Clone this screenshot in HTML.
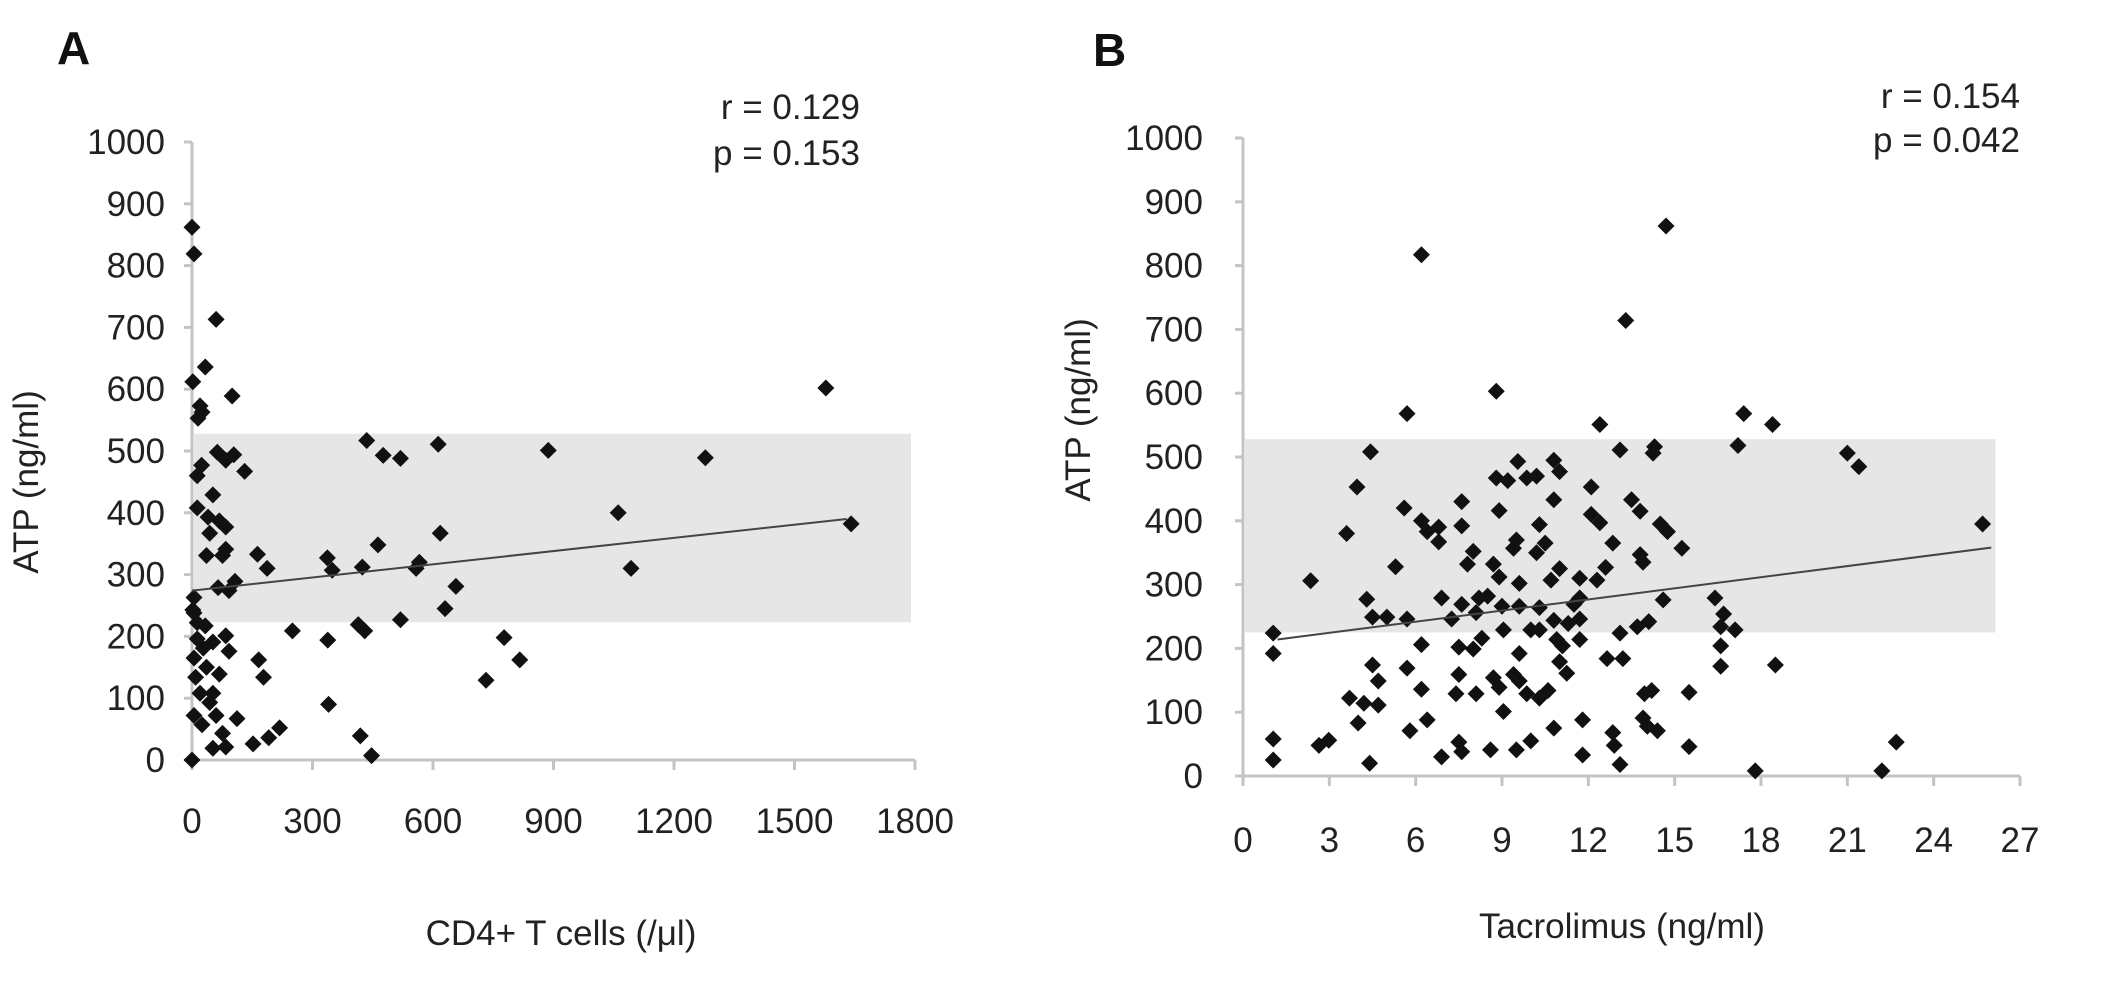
<!DOCTYPE html>
<html><head><meta charset="utf-8"><style>
html,body{margin:0;padding:0;background:#fff;}
svg{display:block;font-family:"Liberation Sans","DejaVu Sans",sans-serif;}
</style></head><body>
<svg id="fig" width="2112" height="1001" viewBox="0 0 2112 1001" xmlns="http://www.w3.org/2000/svg"></svg>
<script>
// ---- Panel A data ----
const aXTicks = [0,300,600,900,1200,1500,1800];
const aYTicks = [0,100,200,300,400,500,600,700,800,900,1000];
const aCd4 = [0,5,60,33,2,100,20,15,25,63,104,131,84,13,24,52,13,40,68,84,44,36,76,84,65,92,107,5,2,13,163,187,337,349,424,435,476,519,613,463,558,566,618,657,630,887,1278,1061,1093,1578,1641,250,338,414,430,519,777,816,732,340,419,447,218,191,152,166,178,112,84,52,76,60,44,5,20,0,68,36,52,92,84,13,5,9,28,33,25,52,5];
const aAtp = [862,819,713,636,612,589,573,553,563,498,494,467,485,460,477,429,408,393,387,377,367,331,331,341,279,274,289,263,243,222,333,310,327,307,312,517,493,488,511,348,310,320,367,281,245,501,489,400,310,602,382,209,194,219,209,227,198,162,129,90,39,7,52,36,26,162,134,67,21,19,43,72,93,72,108,0,139,150,191,176,201,196,165,134,181,217,57,108,238];
const aBand = [223,528];
const aTrend = [[0,274],[1630,390]];
// ---- Panel B data ----
const bXTicks = [0,3,6,9,12,15,18,21,24,27];
const bYTicks = [0,100,200,300,400,500,600,700,800,900,1000];
const bTac = [1.05,1.05,1.05,1.05,2.35,2.64,2.98,3.6,3.96,4.43,4.3,4.5,5,3.7,4.2,4,4.7,4.7,4.5,4.4,5.3,5.7,5.6,5.7,6.2,6.2,6.4,6.8,6.8,6.2,5.7,6.2,5.8,6.4,6.9,7.25,7.5,7.5,7.4,7.5,7.6,6.9,7.6,7.6,7.8,8,8.2,7.6,8.1,8,8.3,8.1,8.6,8.8,8.9,8.8,8.7,8.9,8.5,9,9.05,8.7,8.9,9.05,9.4,9.6,9.6,9.4,9.5,9.55,9.2,9.86,10.2,9.6,9.86,9.5,10,9.6,10,10.3,10.3,10.3,10.2,10.5,10.3,10.6,10.8,11,10.8,10.7,11,10.8,10.9,11.1,11,11.25,10.8,11.3,11.5,11.7,11.7,11.7,11.7,11.8,11.8,12.1,12.1,12.4,12.4,12.3,12.6,12.85,13.1,12.65,13.1,13.2,12.85,12.9,13.1,13.3,13.5,13.8,13.8,13.9,13.95,14.2,13.9,14.05,14.4,13.7,14.1,14.3,14.25,14.7,14.5,14.75,14.6,15.25,15.5,15.5,16.4,16.7,16.6,17.1,16.6,16.6,17.2,17.4,18.4,18.5,17.8,21,21.4,22.2,22.7,25.7];
const bAtp = [224,192,58,25,306,48,56,380,453,508,277,249,249,122,114,83,111,149,174,20,328,568,420,246,817,400,383,390,367,206,169,136,71,88,279,246,202,159,129,53,38,30,430,392,332,352,279,269,256,199,216,129,41,603,416,467,332,312,282,266,229,154,139,101,159,192,302,357,370,493,463,467,470,149,129,41,55,266,229,264,229,394,350,365,122,134,495,477,433,307,325,244,214,204,179,161,75,239,269,310,279,246,214,88,33,453,410,397,551,307,327,365,511,184,224,184,68,48,18,714,433,415,347,335,129,134,91,78,71,234,242,516,506,862,395,383,276,357,131,46,279,254,234,229,204,172,518,568,551,174,8,506,485,8,53,395];
const bBand = [225,528];
const bTrend = [[1.2,214],[26,358]];

const NS = "http://www.w3.org/2000/svg";
const svg = document.getElementById('fig');
function mk(tag, attrs, parent, text){
  const e = document.createElementNS(NS, tag);
  for (const k in attrs) e.setAttribute(k, attrs[k]);
  if (text !== undefined) e.textContent = text;
  (parent||svg).appendChild(e);
  return e;
}
function panel(cfg){
  const g = mk('g', {});
  
  
  const sx = v => cfg.x0 + (v - cfg.xmin) / (cfg.xmax - cfg.xmin) * (cfg.x1 - cfg.x0);
  const sy = v => cfg.y0 - v / 1000 * (cfg.y0 - cfg.y1);
  const band = mk('rect', {x: sx(cfg.xmin)+2, y: sy(cfg.band[1]), width: sx(cfg.bandEnd) - sx(cfg.xmin) - 2, height: sy(cfg.band[0]) - sy(cfg.band[1]), fill: '#e6e6e6'}, g);
  
  
  const ax = mk('line', {x1: sx(cfg.xmin), y1: cfg.y0, x2: sx(cfg.xmax), y2: cfg.y0, stroke: '#c4c4c4', 'stroke-width': 3}, g);
  
  
  const ay = mk('line', {x1: sx(cfg.xmin), y1: cfg.y0, x2: sx(cfg.xmin), y2: sy(1000), stroke: '#c4c4c4', 'stroke-width': 3}, g);
  
  
  cfg.yTicks.forEach(t => {
    mk('line', {x1: sx(cfg.xmin)-8, y1: sy(t), x2: sx(cfg.xmin), y2: sy(t), stroke: '#c4c4c4', 'stroke-width': 3}, g);
    const tl = mk('text', {x: cfg.yLabelX, y: sy(t)+12, 'text-anchor': 'end', 'font-size': 35, fill: '#222'}, g, String(t));
    
    
  });
  cfg.xTicks.forEach(t => {
    mk('line', {x1: sx(t), y1: cfg.y0, x2: sx(t), y2: cfg.y0+10, stroke: '#c4c4c4', 'stroke-width': 3}, g);
    const tl = mk('text', {x: sx(t), y: cfg.xLabelY, 'text-anchor': 'middle', 'font-size': 35, fill: '#222'}, g, String(t));
    
    
  });
  cfg.xs.forEach((v, i) => {
    const cx = sx(v), cy = sy(cfg.ys[i]), r = 8.5;
    const p = mk('polygon', {points: `${cx},${cy-r} ${cx+r},${cy} ${cx},${cy+r} ${cx-r},${cy}`, fill: '#111'}, g);
    
    
  });
  const tr = mk('line', {x1: sx(cfg.trend[0][0]), y1: sy(cfg.trend[0][1]), x2: sx(cfg.trend[1][0]), y2: sy(cfg.trend[1][1]), stroke: '#444', 'stroke-width': 2}, g);
  
  
  const L = mk('text', {x: cfg.letterX, y: cfg.letterY, 'font-size': 46, 'font-weight': 'bold', fill: '#111'}, g, cfg.letter);
  
  
  const r1 = mk('text', {x: cfg.statX, y: cfg.statY1, 'text-anchor': 'end', 'font-size': 35, fill: '#222'}, g, cfg.rText);
  
  
  const p1 = mk('text', {x: cfg.statX, y: cfg.statY2, 'text-anchor': 'end', 'font-size': 35, fill: '#222'}, g, cfg.pText);
  
  
  const xt = mk('text', {x: cfg.xTitleX, y: cfg.xTitleY, 'text-anchor': 'middle', 'font-size': 35, fill: '#222'}, g, cfg.xTitle);
  
  
  const yt = mk('text', {x: 0, y: 0, 'text-anchor': 'middle', 'font-size': 35, fill: '#222', transform: `translate(${cfg.yTitleX},${cfg.yTitleY}) rotate(-90)`}, g, 'ATP (ng/ml)');
  
  
}
panel({name:'panel-a-cd4', x0:192, x1:915, xmin:0, xmax:1800, y0:760, y1:142, band:aBand, bandEnd:1790,
  xTicks:aXTicks, yTicks:aYTicks, xs:aCd4, ys:aAtp, trend:aTrend, yLabelX:165, xLabelY:833,
  letter:'A', letterX:57, letterY:64, rText:'r = 0.129', pText:'p = 0.153', statX:860, statY1:119, statY2:165,
  xTitle:'CD4+ T cells (/μl)', xTitleX:561, xTitleY:945, yTitleX:38, yTitleY:482});
panel({name:'panel-b-tacrolimus', x0:1243, x1:2020, xmin:0, xmax:27, y0:776, y1:138, band:bBand, bandEnd:26.15,
  xTicks:bXTicks, yTicks:bYTicks, xs:bTac, ys:bAtp, trend:bTrend, yLabelX:1203, xLabelY:852,
  letter:'B', letterX:1093, letterY:66, rText:'r = 0.154', pText:'p = 0.042', statX:2020, statY1:108, statY2:152,
  xTitle:'Tacrolimus (ng/ml)', xTitleX:1622, xTitleY:938, yTitleX:1090, yTitleY:410});
</script>
</body></html>
